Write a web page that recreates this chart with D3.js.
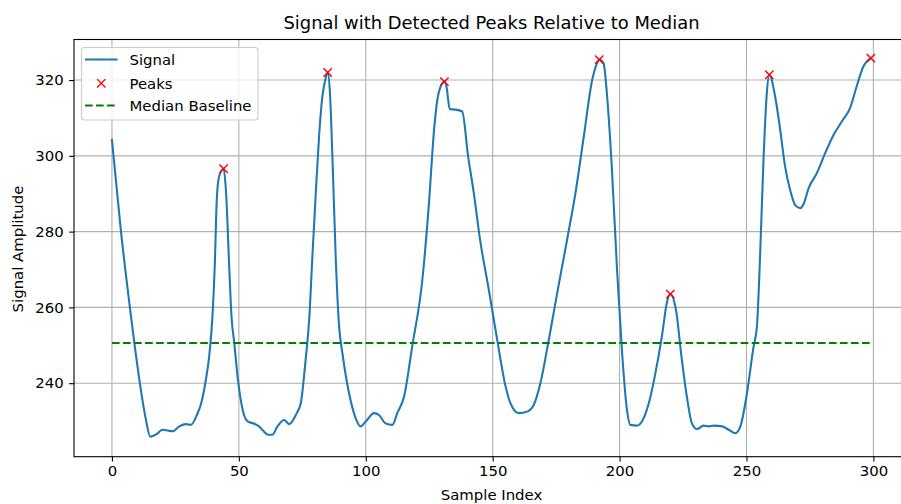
<!DOCTYPE html>
<html>
<head>
<meta charset="utf-8">
<script src="https://cdn.jsdelivr.net/npm/d3@7"></script>
<style>
  html, body { margin: 0; padding: 0; background: #fff; }
  svg { display: block; font-family: "DejaVu Sans", sans-serif; }
</style>
</head>
<body>
<svg id="chart" width="901" height="504"></svg>
<script>
// ---- Data ----
const sampleIndex = [0, 3.5, 7.2, 11, 13.4, 15.1, 17.5, 19.9, 22, 23.9, 26.5, 29.1, 31.1, 33.7, 35, 37, 38.3, 39.6, 40.5, 41.3, 42.2, 44, 44.9, 46.2, 47.1, 48.2, 49.5, 51.5, 53.5, 56.1, 58.1, 59.5, 61.5, 63.2, 65.2, 67.8, 69.8, 72.8, 74.4, 76.3, 77.7, 78.9, 80.3, 81.6, 82.9, 84.2, 85, 85.9, 86.9, 88.2, 89.5, 90.8, 93.4, 96, 98, 100, 103.3, 105.2, 107.8, 110.5, 112.4, 115.1, 118.3, 122.3, 124.9, 126.9, 128.2, 129.5, 131, 131.8, 133.1, 135.4, 138, 140.3, 142.6, 145, 148.5, 151.8, 155.1, 157, 160.3, 163.6, 166.2, 168.8, 172.1, 175.4, 179.3, 182.6, 185.9, 189.2, 191.1, 192, 193.7, 195.1, 197, 199, 201, 202.9, 204.2, 206.9, 208.8, 211.5, 214.1, 216.7, 218.7, 220, 222.3, 224.3, 226.5, 228.5, 230.5, 233.1, 235.1, 237.1, 240.4, 243, 245.6, 247.6, 250.2, 252.8, 254.1, 255.4, 256.7, 258, 259, 261.3, 263.3, 265.2, 267.2, 269.2, 271.2, 272.5, 274.5, 277.7, 281, 284.3, 287.5, 290.8, 293.4, 296, 299];
const signalValues = [304.2, 280.4, 259.3, 240, 230.3, 225.9, 226.5, 227.7, 227.5, 227.3, 228.6, 229.2, 229.0, 232, 234.3, 240.9, 247, 257.6, 270.8, 288.4, 294.5, 296.6, 291, 270.8, 257.6, 250.6, 241.7, 233, 229.9, 229.3, 228.5, 227.5, 226.4, 226.4, 228.6, 230.3, 229.2, 232.1, 234.7, 246.1, 256.7, 272.5, 290.1, 305.1, 315.6, 320.5, 322.0, 316.5, 298.9, 272.5, 255, 247.9, 237.4, 230.8, 228.6, 229.9, 232.1, 231.6, 229.4, 229.0, 232.1, 236.5, 249.7, 267.3, 287.5, 306.8, 314.8, 318.3, 319.6, 318.3, 312.3, 312.2, 311.7, 300, 290, 278, 264.6, 251.4, 239.1, 234.7, 232.1, 232.5, 234.3, 240, 251.4, 263.7, 277.8, 290.1, 305.1, 320, 324.4, 325.4, 324.4, 315.6, 296.3, 269.9, 247.9, 233, 229, 228.8, 229.9, 234.7, 242.6, 252.5, 261.5, 263.5, 259, 247.5, 236.5, 229.4, 227.9, 228.8, 228.6, 228.8, 228.6, 227.7, 226.8, 228.6, 237.4, 249.7, 254.9, 274.3, 298.9, 316.5, 321.4, 315.6, 306.8, 297.2, 291, 287, 286.2, 287.3, 291.5, 295.4, 300.7, 305.5, 309, 312.6, 318.3, 323.5, 325.8];
const peakIndex = [44, 85, 131, 192, 220, 259, 299];
const peakValues = [296.6, 322.0, 319.6, 325.4, 263.5, 321.4, 325.8];
const medianValue = 250.6;
const xTicks = [0, 50, 100, 150, 200, 250, 300];
const yTicks = [240, 260, 280, 300, 320];
const titleText = "Signal with Detected Peaks Relative to Median";
const xLabel = "Sample Index";
const yLabel = "Signal Amplitude";
const legendLabels = ["Signal", "Peaks", "Median Baseline"];

// ---- Layout ----
const svg = d3.select("#chart");
const L = 74, R = 908.8, T = 39.5, B = 456.7;
const x = d3.scaleLinear().domain([-14.95, 313.95]).range([L, R]);
const y = d3.scaleLinear().domain([220.6, 330.7]).range([B, T]);
const fs = 14.9;

svg.append("defs").append("clipPath").attr("id", "clip")
  .append("rect").attr("x", L).attr("y", T).attr("width", R - L).attr("height", B - T);

// grid
const grid = svg.append("g");
grid.selectAll(".gx").data(xTicks).join("line")
  .attr("x1", d => x(d)).attr("x2", d => x(d)).attr("y1", T).attr("y2", B)
  .attr("stroke", "#b0b0b0").attr("stroke-width", 1.1);
grid.selectAll(".gy").data(yTicks).join("line")
  .attr("x1", L).attr("x2", R).attr("y1", d => y(d)).attr("y2", d => y(d))
  .attr("stroke", "#b0b0b0").attr("stroke-width", 1.1);

const plot = svg.append("g").attr("clip-path", "url(#clip)");

// signal line
const pts = sampleIndex.map((d, i) => [d, signalValues[i]]);
plot.append("path").datum(pts)
  .attr("fill", "none").attr("stroke", "#1f77b4").attr("stroke-width", 2.08)
  .attr("stroke-linejoin", "round").attr("stroke-linecap", "square")
  .attr("d", d3.line().x(d => x(d[0])).y(d => y(d[1])).curve(d3.curveMonotoneX));

// median baseline
plot.append("line")
  .attr("x1", x(0)).attr("x2", x(299)).attr("y1", y(medianValue)).attr("y2", y(medianValue))
  .attr("stroke", "#008000").attr("stroke-width", 2.08).attr("stroke-dasharray", "7.7,3.33");

// peaks
const m = 4.17;
const peaksG = plot.append("g");
peakIndex.forEach((px, i) => {
  const cx = x(px), cy = y(peakValues[i]);
  peaksG.append("path")
    .attr("d", `M${cx - m},${cy - m}L${cx + m},${cy + m}M${cx - m},${cy + m}L${cx + m},${cy - m}`)
    .attr("stroke", "#ff0000").attr("stroke-width", 1.4).attr("fill", "none");
});

// spines
svg.append("rect").attr("x", L).attr("y", T).attr("width", R - L).attr("height", B - T)
  .attr("fill", "none").attr("stroke", "#000").attr("stroke-width", 1.1);

// axes ticks
const xAxis = d3.axisBottom(x).tickValues(xTicks).tickSize(4.86).tickPadding(4.2).tickFormat(d3.format("d"));
const gx = svg.append("g").attr("transform", `translate(0,${B})`).call(xAxis);
gx.select(".domain").remove();
gx.selectAll("line").attr("stroke", "#000").attr("stroke-width", 1.1);
gx.selectAll("text").attr("font-size", fs).attr("fill", "#000").attr("font-family", "DejaVu Sans");

const yAxis = d3.axisLeft(y).tickValues(yTicks).tickSize(4.86).tickPadding(5.5).tickFormat(d3.format("d"));
const gy = svg.append("g").attr("transform", `translate(${L},0)`).call(yAxis);
gy.select(".domain").remove();
gy.selectAll("line").attr("stroke", "#000").attr("stroke-width", 1.1);
gy.selectAll("text").attr("font-size", fs).attr("fill", "#000").attr("font-family", "DejaVu Sans");

// labels
svg.append("text").attr("x", 491.5).attr("y", 29).attr("text-anchor", "middle")
  .attr("font-size", 17.9).attr("fill", "#000").text(titleText);
svg.append("text").attr("x", 491.5).attr("y", 499.5).attr("text-anchor", "middle")
  .attr("font-size", fs).attr("fill", "#000").text(xLabel);
svg.append("text").attr("transform", "translate(23,249) rotate(-90)").attr("text-anchor", "middle")
  .attr("font-size", fs).attr("fill", "#000").text(yLabel);

// legend
const lg = svg.append("g");
lg.append("rect").attr("x", 81.5).attr("y", 47.5).attr("width", 176.5).attr("height", 72.5)
  .attr("rx", 3).attr("fill", "#fff").attr("fill-opacity", 0.8)
  .attr("stroke", "#cccccc").attr("stroke-width", 1.1);
const rows = [59.5, 83.3, 105.5];
lg.append("line").attr("x1", 85).attr("x2", 117.5).attr("y1", rows[0]).attr("y2", rows[0])
  .attr("stroke", "#1f77b4").attr("stroke-width", 2.08);
lg.append("path")
  .attr("d", `M${101.3 - m},${rows[1] - m}L${101.3 + m},${rows[1] + m}M${101.3 - m},${rows[1] + m}L${101.3 + m},${rows[1] - m}`)
  .attr("stroke", "#ff0000").attr("stroke-width", 1.4);
lg.append("line").attr("x1", 85).attr("x2", 117.5).attr("y1", rows[2]).attr("y2", rows[2])
  .attr("stroke", "#008000").attr("stroke-width", 2.08).attr("stroke-dasharray", "7.7,3.33");
legendLabels.forEach((t, i) => {
  lg.append("text").attr("x", 129.5).attr("y", rows[i]).attr("dy", "0.35em")
    .attr("font-size", fs).attr("fill", "#000").text(t);
});
</script>
</body>
</html>
